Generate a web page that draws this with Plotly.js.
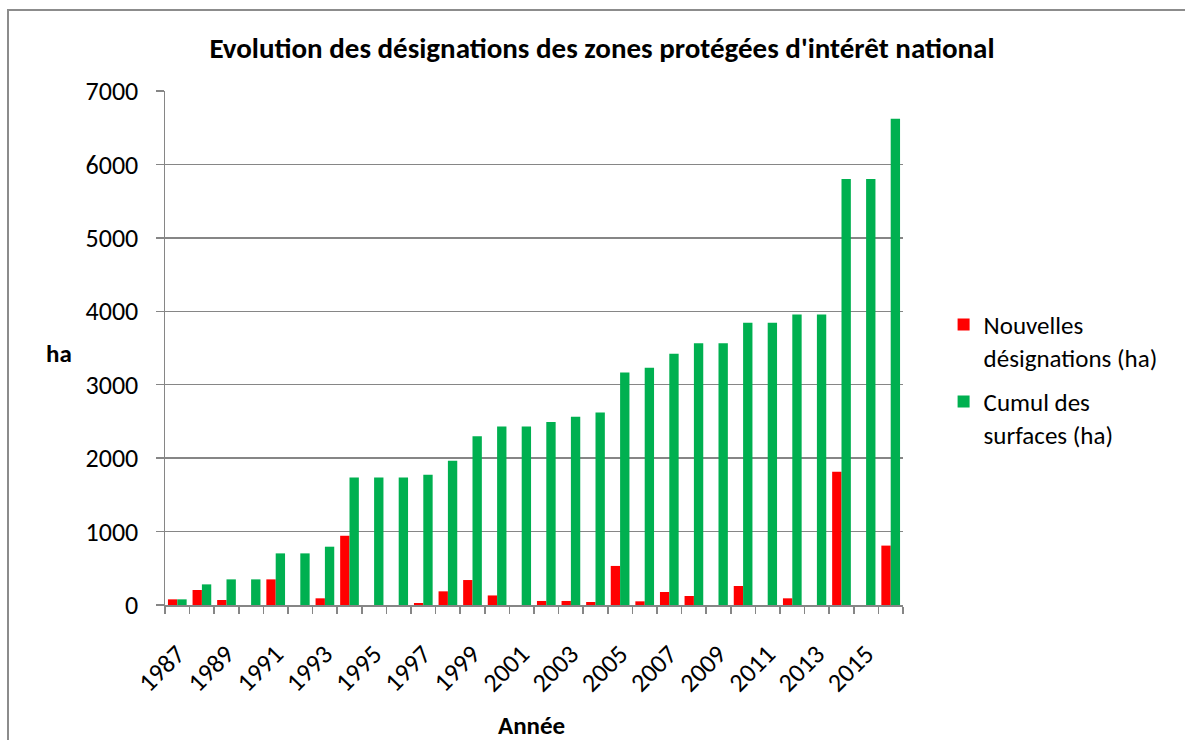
<!DOCTYPE html>
<html>
<head>
<meta charset="utf-8">
<script src="https://cdn.plot.ly/plotly-3.0.1.min.js"></script>
<style>
  html, body { margin: 0; padding: 0; background: #ffffff; }
  #frame { position: absolute; left: 7px; top: 9px; width: 1200px; height: 760px; border: 2px solid #8c8c8c; box-sizing: border-box; }
  #chart { position: absolute; left: 0; top: 0; width: 1185px; height: 740px; }
</style>
</head>
<body>
<div id="frame"></div>
<div id="chart"></div>
<script>
const years = ["1987","1988","1989","1990","1991","1992","1993","1994","1995","1996",
               "1997","1998","1999","2000","2001","2002","2003","2004","2005","2006",
               "2007","2008","2009","2010","2011","2012","2013","2014","2015","2016"];
const nouvelles = [77, 204, 68, 0, 349, 0, 91, 943, 0, 0,
                   27, 186, 340, 130, 0, 55, 55, 41, 532, 50,
                   177, 123, 0, 259, 0, 91, 0, 1814, 0, 809];
const cumul = [77, 281, 349, 349, 703, 703, 794, 1737, 1737, 1737,
               1773, 1964, 2299, 2431, 2431, 2491, 2564, 2623, 3168, 3232,
               3423, 3564, 3564, 3845, 3845, 3955, 3955, 5801, 5801, 6622];
const tickText = years.map((y, i) => (i % 2 === 0 ? y : ""));
const seriesNames = ["Nouvelles<br>désignations (ha)", "Cumul des<br>surfaces (ha)"];
const chartTitle = "Evolution des désignations des zones protégées d'intérêt national";

const FONT = "Carlito, Lato, 'Open Sans', sans-serif";
const GRID = "#868686";

const data = [
  { type: "bar", x: years, y: nouvelles, name: seriesNames[0], legendgroup: "g1", marker: { color: "#FF0000" } },
  { type: "bar", x: years, y: cumul, name: seriesNames[1], legendgroup: "g2", marker: { color: "#00B050" } }
];

const layout = {
  width: 1185, height: 740,
  margin: { l: 165, r: 282, t: 91, b: 135 },
  paper_bgcolor: "rgba(0,0,0,0)",
  plot_bgcolor: "#ffffff",
  font: { family: FONT, size: 25, color: "#000000" },
  barmode: "group",
  bargap: 0.24,
  bargroupgap: 0,
  title: { text: "<b>" + chartTitle + "</b>", x: 0.508, xref: "container", xanchor: "center",
           y: 0.935, yref: "container", yanchor: "middle",
           font: { family: FONT, size: 29, color: "#000000" } },
  xaxis: {
    type: "category",
    tickmode: "array", tickvals: years, ticktext: tickText,
    tickson: "boundaries",
    tickangle: -45,
    ticks: "outside", ticklen: 7, tickwidth: 1.5, tickcolor: GRID,
    ticklabelstandoff: 22,
    showline: true, linecolor: GRID, linewidth: 1.5,
    showgrid: false,
    tickfont: { family: FONT, size: 26 },
    fixedrange: true
  },
  yaxis: {
    range: [0, 7000], dtick: 1000, tick0: 0,
    ticks: "outside", ticklen: 8, tickwidth: 1.5, tickcolor: GRID,
    ticklabelstandoff: 12,
    showline: true, linecolor: GRID, linewidth: 1.5,
    showgrid: true, gridcolor: GRID, gridwidth: 1.5,
    zeroline: false,
    tickfont: { family: FONT, size: 26 },
    fixedrange: true
  },
  legend: {
    x: 1.055, xanchor: "left", y: 0.59, yanchor: "top",
    font: { family: FONT, size: 25 },
    valign: "top",
    tracegroupgap: 9,
    bgcolor: "rgba(0,0,0,0)"
  },
  annotations: [
    { text: "<b>ha</b>", xref: "paper", yref: "paper", x: -0.143, y: 0.49, xanchor: "center", yanchor: "middle",
      showarrow: false, font: { family: FONT, size: 25 } },
    { text: "<b>Année</b>", xref: "paper", yref: "paper", x: 0.497, y: -0.235, xanchor: "center", yanchor: "middle",
      showarrow: false, font: { family: FONT, size: 25 } }
  ],
  showlegend: true
};

Plotly.newPlot("chart", data, layout, { displayModeBar: false, staticPlot: true });
</script>
</body>
</html>
